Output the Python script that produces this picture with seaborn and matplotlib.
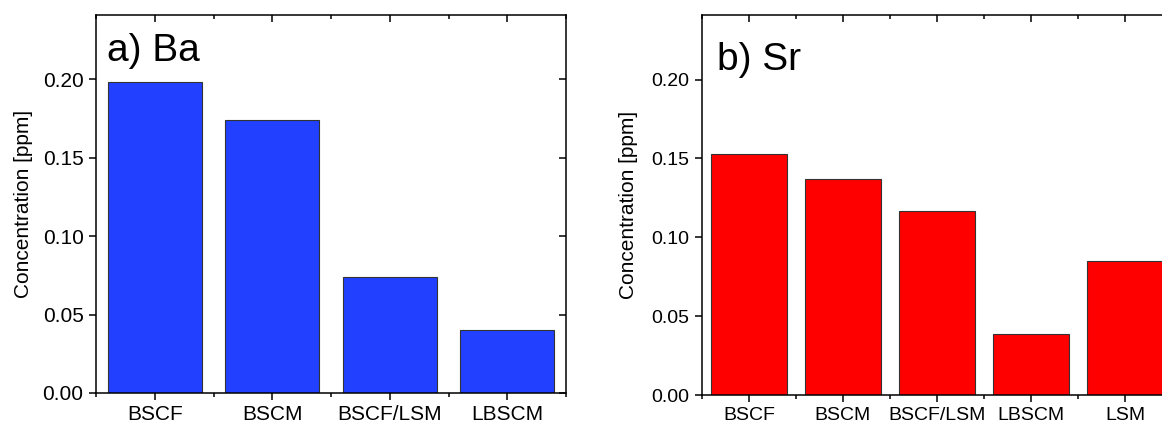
import matplotlib
matplotlib.use("Agg")
import matplotlib.pyplot as plt
import seaborn as sns
import pandas as pd
from matplotlib.ticker import FixedLocator

sns.set_theme(style="white")
plt.rcParams['font.family'] = ['Liberation Sans', 'DejaVu Sans']

ba_categories = ["BSCF", "BSCM", "BSCF/LSM", "LBSCM"]
ba_values = [0.198, 0.174, 0.074, 0.040]
sr_categories = ["BSCF", "BSCM", "BSCF/LSM", "LBSCM", "LSM"]
sr_values = [0.153, 0.137, 0.117, 0.039, 0.085]
y_ticks = [0.00, 0.05, 0.10, 0.15, 0.20]
y_label = "Concentration [ppm]"

W, H = 1162, 425
fig = plt.figure(figsize=(W / 100, H / 100), dpi=100)
ax1 = fig.add_axes([96 / W, 1 - 393 / H, 470 / W, 378 / H])
ax2 = fig.add_axes([702 / W, 1 - 395 / H, 470 / W, 380 / H])


def draw(ax, cats, vals, color, label, lx, ly, fs, ylx):
    df = pd.DataFrame({"cat": cats, "val": vals})
    sns.barplot(data=df, x="cat", y="val", hue="cat", palette=[color] * len(cats),
                legend=False, width=0.8, edgecolor="#333333", linewidth=0.8,
                saturation=1, ax=ax)
    ax.set_xlim(-0.5, len(cats) - 0.5)
    ax.set_ylim(0, 0.241)
    ax.set_yticks(y_ticks)
    ax.set_yticklabels([f"{v:.2f}" for v in y_ticks])
    ax.set_xlabel("")
    ax.set_ylabel(y_label, fontsize=15, color="black")
    ax.yaxis.set_label_coords(ylx, 0.5)
    ax.xaxis.set_minor_locator(FixedLocator([i + 0.5 for i in range(-1, len(cats))]))
    for s in ax.spines.values():
        s.set_linewidth(1.1)
        s.set_color("black")
        s.set_visible(True)
    ax.tick_params(axis="both", which="major", labelsize=fs, colors="black",
                   labelcolor="black", length=5, width=1.1, pad=4)
    ax.tick_params(axis="x", which="both", bottom=True, top=False, direction="out")
    ax.tick_params(axis="x", which="minor", length=3, width=1.1, colors="black")
    ax.tick_params(axis="y", which="major", left=True, right=False, direction="out")
    # inward ticks on top and right
    axt = ax.secondary_xaxis("top")
    axt.set_xticks(range(len(cats)))
    axt.xaxis.set_minor_locator(FixedLocator([i + 0.5 for i in range(-1, len(cats))]))
    axt.tick_params(which="major", direction="in", length=5, width=1.1, labeltop=False,
                    colors="black")
    axt.tick_params(which="minor", direction="in", length=3, width=1.1, colors="black")
    axt.set_xticklabels([])
    axr = ax.secondary_yaxis("right")
    axr.set_yticks(y_ticks)
    axr.tick_params(direction="in", length=5, width=1.1, labelright=False, colors="black")
    axr.set_yticklabels([])
    for s in list(axt.spines.values()) + list(axr.spines.values()):
        s.set_visible(False)
    ax.text(lx, ly, label, transform=ax.transAxes, fontsize=28, va="baseline",
            ha="left", color="black")
    ax.grid(False)


draw(ax1, ba_categories, ba_values, "#2140ff", "a) Ba", 0.023, 0.878, 15, -63 / 470)
draw(ax2, sr_categories, sr_values, "#ff0000", "b) Sr", 0.032, 0.855, 14, -64 / 470)

fig.savefig("out.png", dpi=100)
